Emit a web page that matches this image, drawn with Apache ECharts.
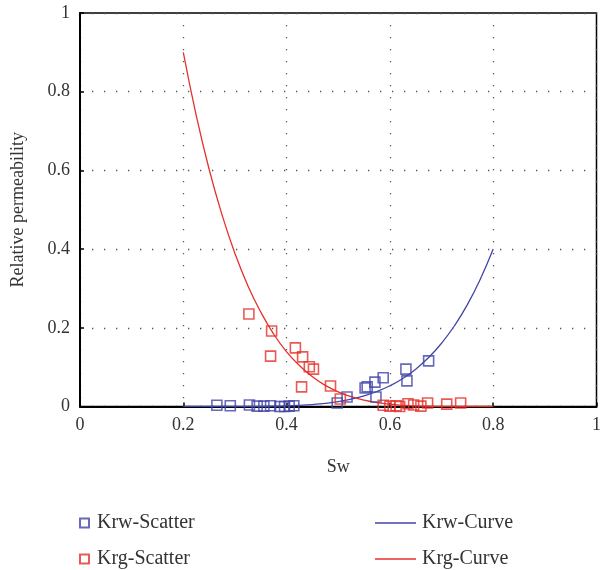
<!DOCTYPE html>
<html>
<head>
<meta charset="utf-8">
<script src="https://cdn.jsdelivr.net/npm/echarts@6/dist/echarts.min.js"></script>
<style>
  html, body { margin: 0; padding: 0; background: #fff; }
  #chart { width: 604px; height: 570px; }
</style>
</head>
<body>
<div id="chart"></div>
<script>
// Measured water relative permeability (Sw, Krw)
const krwScatterSw = [0.265, 0.291, 0.328, 0.343, 0.356, 0.369, 0.387, 0.396, 0.405, 0.414,
                      0.498, 0.517, 0.552, 0.556, 0.571, 0.573, 0.587, 0.631, 0.633, 0.675];
const krwScatterK  = [0.003, 0.002, 0.004, 0.001, 0.001, 0.002, 0.000, 0.000, 0.001, 0.002,
                      0.009, 0.024, 0.047, 0.050, 0.062, 0.024, 0.073, 0.095, 0.065, 0.116];

// Measured gas relative permeability (Sw, Krg)
const krgScatterSw = [0.327, 0.371, 0.369, 0.417, 0.431, 0.444, 0.452, 0.429, 0.485, 0.504,
                      0.587, 0.600, 0.612, 0.619, 0.635, 0.646, 0.660, 0.673, 0.710, 0.737];
const krgScatterK  = [0.235, 0.192, 0.128, 0.149, 0.126, 0.101, 0.095, 0.050, 0.052, 0.019,
                      0.003, 0.001, 0.002, 0.000, 0.007, 0.004, 0.001, 0.009, 0.006, 0.009];

// Fitted curves sampled along Sw
const curveSw  = [0.2, 0.225, 0.25, 0.275, 0.3, 0.325, 0.35, 0.375, 0.4, 0.425, 0.45, 0.475,
                  0.5, 0.525, 0.55, 0.575, 0.6, 0.625, 0.65, 0.675, 0.7, 0.725, 0.75, 0.775, 0.8];
const krwCurve = [0, 0, 0, 0, 0.00005, 0.0002, 0.0004, 0.0009, 0.0016, 0.003, 0.005, 0.0081,
                  0.0125, 0.0187, 0.027, 0.0381, 0.0527, 0.0713, 0.0949, 0.1244, 0.1608, 0.2052, 0.2588, 0.3233, 0.4];
const krgCurve = [0.9, 0.74, 0.603, 0.487, 0.389, 0.307, 0.24, 0.184, 0.139, 0.104, 0.0754, 0.0536,
                  0.0371, 0.0249, 0.016, 0.0099, 0.0057, 0.0031, 0.0015, 0.0006, 0.0002, 0.0001, 0, 0, 0];

const axisTicks = [0, 0.2, 0.4, 0.6, 0.8, 1];

const pairs = (xs, ys) => xs.map((x, i) => [x, ys[i]]);

const BLUE = '#4245a8';
const RED = '#e5312b';
const FONT = '"Liberation Serif", "DejaVu Serif", serif';
const TEXT = '#333';

const fmt = v => axisTicks.includes(Math.round(v * 10) / 10) ? String(+v.toFixed(1)) : '';

const chart = echarts.init(document.getElementById('chart'), null, { renderer: 'canvas' });

const axisCommon = {
  type: 'value',
  min: 0,
  max: 1,
  interval: 0.2,
  axisLine: { show: true, onZero: false, lineStyle: { color: '#000', width: 2 } },
  axisTick: { show: true, inside: true, length: 4, lineStyle: { color: '#000', width: 1.5 } },
  axisLabel: { color: TEXT, fontSize: 18, fontFamily: FONT, formatter: fmt },
  splitLine: { show: true, lineStyle: { color: '#555', width: 1.3, type: [1.3, 10.7] } },
  nameTextStyle: { color: TEXT, fontSize: 18, fontFamily: FONT }
};

// One legend block per entry, laid out as two columns of two rows
const legendText = { color: TEXT, fontSize: 20, fontFamily: FONT };
const markerLegend = (name, top) => ({
  data: [{ name: name, icon: 'rect' }],
  left: 74, top: top, itemWidth: 9, itemHeight: 9,
  textStyle: Object.assign({ padding: [0, 0, 0, 3] }, legendText)
});
const lineLegend = (name, top) => ({
  data: [{ name: name, icon: 'rect' }],
  left: 370, top: top, itemWidth: 41, itemHeight: 1.4,
  textStyle: Object.assign({ padding: [0, 0, 0, 1] }, legendText)
});

chart.setOption({
  animation: false,
  backgroundColor: '#fff',
  grid: {
    left: 80, right: 4, top: 13, bottom: 163.5,
    show: true, borderColor: '#000', borderWidth: 1.5, backgroundColor: 'transparent'
  },
  xAxis: Object.assign({}, axisCommon, {
    name: 'Sw', nameLocation: 'middle', nameGap: 52,
    axisLabel: Object.assign({}, axisCommon.axisLabel, { margin: 10 })
  }),
  yAxis: Object.assign({}, axisCommon, {
    name: 'Relative permeability', nameLocation: 'middle', nameGap: 53,
    nameTextStyle: { color: TEXT, fontSize: 18, fontFamily: FONT },
    axisLabel: Object.assign({}, axisCommon.axisLabel, { margin: 10 })
  }),
  legend: [
    markerLegend('Krw-Scatter', 508),
    markerLegend('Krg-Scatter', 544),
    lineLegend('Krw-Curve', 508),
    lineLegend('Krg-Curve', 544)
  ],
  series: [
    {
      name: 'Krw-Curve', type: 'line', data: pairs(curveSw, krwCurve),
      smooth: true, symbol: 'none', clip: true,
      lineStyle: { color: BLUE, width: 1.3 }, itemStyle: { color: BLUE }, z: 3
    },
    {
      name: 'Krg-Curve', type: 'line', data: pairs(curveSw, krgCurve),
      smooth: true, symbol: 'none', clip: true,
      lineStyle: { color: RED, width: 1.3 }, itemStyle: { color: RED }, z: 3
    },
    {
      name: 'Krw-Scatter', type: 'scatter', data: pairs(krwScatterSw, krwScatterK),
      symbol: 'rect', symbolSize: 10,
      itemStyle: { color: 'rgba(255,255,255,0)', borderColor: BLUE, borderWidth: 1.6 }, z: 4
    },
    {
      name: 'Krg-Scatter', type: 'scatter', data: pairs(krgScatterSw, krgScatterK),
      symbol: 'rect', symbolSize: 10,
      itemStyle: { color: 'rgba(255,255,255,0)', borderColor: RED, borderWidth: 1.6 }, z: 4
    }
  ]
});
</script>
</body>
</html>
